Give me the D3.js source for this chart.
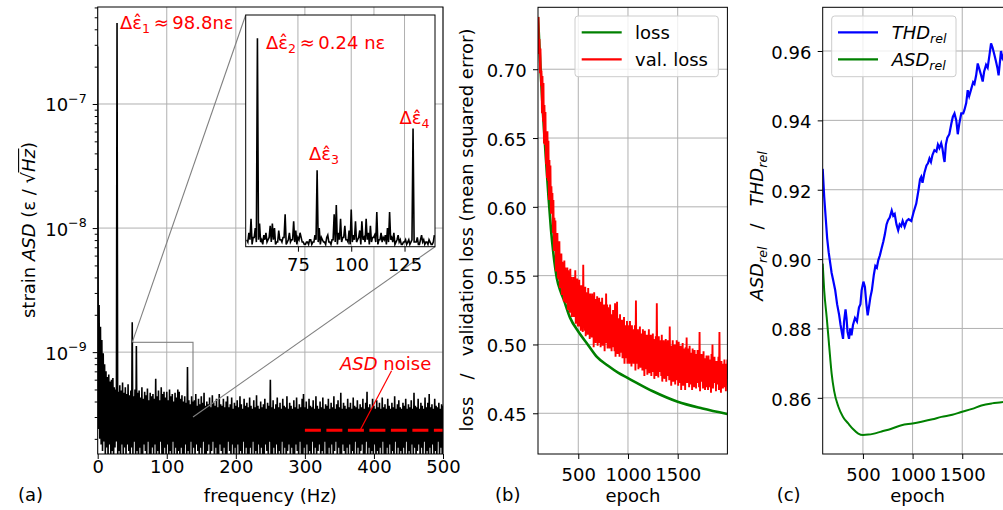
<!DOCTYPE html>
<html><head><meta charset="utf-8">
<script src="https://cdn.jsdelivr.net/npm/d3@7"></script>
<style>
body{margin:0;background:#fff}
svg{display:block;font-family:"DejaVu Sans",sans-serif}
</style>
</head><body>
<svg id="c" width="1003" height="510"></svg>
<script>
// ---------------- DATA ----------------
// Panel (a): strain ASD, units 1e-11, local maxima at even Hz (0..500)
const asdEven = [
29000,240,160,125,98,80,70,63,66,58,
60,62,52,50,45000,48,54,49,57,47,
52,46,55,45,49,174,44,50,112,47,
49,43,52,42,48,45,51,41,47,44,
46,42,61,44,49,41,52,46,48,43,
48,41,50,44,46,40,47,43,50,48,
42,45,40,44,39,76,41,38,44,40,
41,46,37,42,38,44,39,47,37,40,
38,43,36,45,39,37,42,36,46,38,
37,42,36,40,44,36,38,43,35,39,
37,41,36,44,38,35,42,37,39,36,
43,37,35,41,36,45,37,35,40,36,
38,42,35,39,37,60,36,41,35,38,
43,36,39,35,42,37,36,44,35,39,
37,35,41,36,43,35,38,36,42,46,
36,40,35,42,37,36,41,35,44,37,
35,40,36,43,35,38,37,42,35,39,
36,44,35,38,41,36,47,35,39,37,
35,42,36,39,35,43,37,36,41,35,
38,36,42,35,39,48,36,38,35,42,
37,35,41,36,39,35,43,36,38,35,
42,37,35,39,36,44,35,38,41,36,
35,39,37,42,35,38,36,41,35,47,
37,36,42,35,39,37,35,43,36,39,
46,36,38,35,42,37,36,39,35,38,
37];
// local minima at odd Hz (1..499), units 1e-11
const asdOdd = [
24,20,18,16,19,15,17,14,18,15,
16,13,17,19,14,16,12,18,15,17,
14,18,16,13,17,15,19,14,16,12,
17,15,13,18,16,14,19,15,12,17,
15,18,13,16,14,19,15,12,17,14,
18,14,16,13,19,15,17,12,16,14,
17,15,13,18,14,16,12,19,15,17,
14,18,16,13,17,15,19,14,12,16,
18,14,16,19,13,17,15,12,18,16,
14,17,15,13,19,16,14,18,12,17,
15,18,14,16,13,19,15,17,14,12,
17,15,19,14,16,13,18,15,17,14,
12,18,16,14,19,15,13,17,15,18,
14,16,13,19,15,17,12,16,18,14,
17,15,13,18,16,14,19,15,12,17,
15,18,14,16,13,19,15,17,14,16,
18,13,16,15,19,14,12,17,15,18,
14,16,19,13,17,15,14,18,16,12,
17,15,18,14,16,13,19,15,17,14,
16,18,13,15,19,14,17,12,16,15,
18,14,16,13,17,15,19,14,11,17,
15,18,14,16,13,19,15,17,14,16,
13,17,15,19,14,16,12,18,15,17,
14,16,18,13,17,15,19,14,16,12,
17,15,18,14,16,13,19,15,17,14];
const freqTicks = [0,100,200,300,400,500];
const asdTicks = [1e-9,1e-8,1e-7];
const zoomBox = {f0:50, f1:138, v0:3.0e-10, v1:1.2e-9};
const asdNoise = 2.35e-10;
const asdNoiseRange = [300,500];
// inset: amplitude (relative units, x100) at integer Hz 51..139 and half-Hz minima
const insetHi = [
3,6,12,4,8,90,10,3,5,6,
3,9,10,8,2,7,3,4,14,2,
6,3,11,7,4,6,2,1,2,1,
3,2,5,33,8,4,2,1,5,2,
3,14,18,6,12,4,9,3,7,16,
5,11,3,7,11,4,12,6,9,4,
5,15,3,6,4,5,8,15,4,6,
2,5,3,1,2,1,3,2,51,2,
4,1,5,3,2,1,2,1,5];
const insetLo = [
2,3,1,4,2,3,2,1,3,2,
4,2,3,1,2,3,2,4,1,3,
2,3,2,1,3,4,2,1,2,3,
1,2,3,2,1,3,2,4,2,1,
3,2,1,3,2,4,3,2,1,2,
3,2,4,1,3,2,3,1,2,4,
2,1,3,2,3,1,2,3,2,1,
3,2,1,2,3,2,1,3,2,2,
1,3,2,1,2,3,1,2];
const insetTicks = [75,100,125];

// Panel (b): training loss and validation loss
const lossEpoch = [95,110,125,140,160,180,200,225,250,285,320,352,417,500,600,685,800,900,1000,1250,1500,1750,2000];
const lossValue = [0.738,0.716,0.694,0.674,0.651,0.629,0.608,0.584,0.566,0.548,0.539,0.533,0.5195,0.5094,0.4995,0.4912,0.4845,0.4795,0.4756,0.466,0.4584,0.4535,0.4495];
// validation loss x1000: maxima at epochs 100,110,...,2000 ; minima at 105,...,1995
const valHi = [
738,722,715,699,695,690,674,669,654,655,
648,634,630,615,610,605,592,590,577,581,
575,575,564,566,560,553,561,556,552,556,
554,547,555,549,543,549,545,554,541,548,
544,547,538,543,539,558,536,542,538,531,
541,533,537,529,537,533,538,528,533,535,
530,534,526,531,534,525,529,522,537,529,
527,520,529,522,516,525,519,530,517,531,
519,513,522,515,518,512,520,514,508,517,
514,509,517,511,514,506,511,514,532,507,
511,506,513,503,508,511,505,510,502,507,
505,511,501,507,502,508,504,499,506,530,
501,506,497,503,507,498,503,497,504,499,
503,497,513,499,494,503,498,500,494,503,
497,502,493,499,495,501,491,497,498,505,
492,497,499,489,494,497,491,496,488,493,
496,491,509,487,493,487,495,490,484,492,
487,492,484,489,493,500,486,491,481,488,
486,491,509,482,488,481,486,489,482,486,
489];
const valLo = [
711,697,688,668,662,646,645,631,621,619,
605,605,595,597,581,568,568,553,554,548,
547,541,546,536,539,531,538,530,531,525,
529,523,530,520,523,520,524,515,518,513,
513,518,510,514,509,517,510,506,513,507,
511,504,512,505,506,498,509,501,504,499,
501,507,498,503,499,504,495,501,505,497,
502,497,503,495,498,503,495,491,497,493,
498,491,494,498,490,493,486,495,490,486,
491,486,494,484,490,486,491,481,486,489,
482,487,483,489,481,485,477,487,482,478,
485,479,483,477,486,480,475,482,477,484,
476,480,484,477,473,481,475,480,473,477,
481,474,477,470,481,473,477,471,474,477,
470,476,472,467,478,470,474,467,478,472,
475,469,477,471,467,473,469,477,468,472,
475,469,466,473,477,468,472,467,475,469,
467,473,469,465,475,468,472,476,466,471,
474,467,472,465,476,468,473,469,466,475];
const epochTicks = [500,1000,1500];
const lossTicks = [0.45,0.50,0.55,0.60,0.65,0.70];

// Panel (c): relative THD and ASD
const thdEpoch = [95,110,125,140,155,170,185,200,221,240,260,275,290,300,310,325,335,345,360,372,385,400,420,440,460,475,487,505,520,535,548,560,575,590,610,625,640,655,670,687,705,720,738,753,770,790,805,820,838,855,870,885,900,920,940,960,987,1010,1037,1060,1075,1087,1100,1120,1140,1155,1170,1185,1200,1220,1240,1255,1270,1288,1300,1315,1322,1335,1350,1370,1390,1405,1422,1440,1455,1470,1490,1510,1522,1540,1555,1570,1590,1610,1623,1640,1656,1670,1690,1706,1720,1740,1756,1775,1790,1805,1823,1840,1855,1866,1880,1890,1905,1920,1940,1960,1980,2000];
const thdValue = [0.926,0.918,0.912,0.906,0.902,0.899,0.896,0.894,0.891,0.887,0.884,0.881,0.8785,0.877,0.882,0.8855,0.883,0.879,0.877,0.880,0.878,0.881,0.883,0.882,0.886,0.887,0.891,0.8935,0.892,0.887,0.8838,0.886,0.889,0.891,0.8955,0.898,0.8975,0.8997,0.901,0.903,0.905,0.907,0.910,0.9112,0.912,0.914,0.9125,0.913,0.910,0.9083,0.910,0.9095,0.911,0.9093,0.911,0.9115,0.911,0.9135,0.916,0.920,0.923,0.9237,0.922,0.925,0.927,0.9276,0.929,0.928,0.930,0.9314,0.931,0.933,0.932,0.9334,0.932,0.929,0.928,0.933,0.935,0.936,0.939,0.941,0.942,0.940,0.936,0.939,0.942,0.942,0.943,0.945,0.9487,0.947,0.949,0.951,0.9505,0.953,0.9564,0.955,0.953,0.9512,0.954,0.956,0.9552,0.959,0.9622,0.961,0.959,0.957,0.955,0.953,0.957,0.960,0.958,0.959,0.957,0.958,0.956,0.957];
const asdRelEpoch = [95,110,135,160,185,210,252,300,352,400,453,500,554,600,688,780,889,1000,1090,1200,1290,1400,1490,1600,1693,1800,1894,2000];
const asdRelValue = [0.8987,0.891,0.8833,0.875,0.867,0.862,0.8575,0.8545,0.8526,0.851,0.8497,0.8493,0.8494,0.8496,0.8503,0.851,0.8521,0.8526,0.8531,0.8538,0.8545,0.8551,0.8559,0.8568,0.8578,0.8584,0.8587,0.8592];
const relTicks = [0.86,0.88,0.90,0.92,0.94,0.96];

// ---------------- DRAWING ----------------
const FS = 18;
const GRID = '#b0b0b0';
const svg = d3.select('#c');
const defs = svg.append('defs');
function clip(id,x,y,w,h){ defs.append('clipPath').attr('id',id).append('rect').attr('x',x).attr('y',y).attr('width',w).attr('height',h); }
function styleAxis(g){
  g.attr('font-family','DejaVu Sans').attr('font-size',FS);
  g.select('.domain').remove();
  g.selectAll('.tick line').attr('stroke','#000').attr('stroke-width',1);
  g.selectAll('.tick text').attr('fill','#000');
}
function frame(g,x0,x1,y0,y1){
  g.append('rect').attr('x',x0).attr('y',y0).attr('width',x1-x0).attr('height',y1-y0)
   .attr('fill','none').attr('stroke','#000').attr('stroke-width',1);
}

// ===== Panel (a) =====
const ax = d3.scaleLinear().domain([0,500]).range([97.7,443]);
const ay = d3.scaleLog().domain([1.51e-10,6.05e-7]).range([454,7]);
const gA = svg.append('g');
clip('clipA',ax.range()[0],ay.range()[1],ax.range()[1]-ax.range()[0],ay.range()[0]-ay.range()[1]);
gA.append('g').selectAll('line').data(freqTicks).join('line')
  .attr('x1',d=>ax(d)).attr('x2',d=>ax(d)).attr('y1',ay.range()[0]).attr('y2',ay.range()[1])
  .attr('stroke',GRID).attr('stroke-width',1);
gA.append('g').selectAll('line').data(asdTicks).join('line')
  .attr('x1',ax.range()[0]).attr('x2',ax.range()[1]).attr('y1',d=>ay(d)).attr('y2',d=>ay(d))
  .attr('stroke',GRID).attr('stroke-width',1);
const gray = '#808080';
gA.append('rect').attr('x',ax(zoomBox.f0)).attr('y',ay(zoomBox.v1))
  .attr('width',ax(zoomBox.f1)-ax(zoomBox.f0)).attr('height',ay(zoomBox.v0)-ay(zoomBox.v1))
  .attr('fill','none').attr('stroke',gray).attr('stroke-width',1.1);
const spec = [];
for(let i=0;i<asdEven.length;i++){
  spec.push([2*i, asdEven[i]*1e-11]);
  if(i<asdOdd.length) spec.push([2*i+1, asdOdd[i]*1e-11]);
}
gA.append('path').datum(spec).attr('clip-path','url(#clipA)')
  .attr('d',d3.line().x(d=>ax(d[0])).y(d=>ay(d[1])))
  .attr('fill','none').attr('stroke','#000').attr('stroke-width',1.6).attr('stroke-linejoin','miter');
gA.append('line').attr('x1',ax(asdNoiseRange[0])).attr('x2',ax(asdNoiseRange[1]))
  .attr('y1',ay(asdNoise)).attr('y2',ay(asdNoise))
  .attr('stroke','#ff0000').attr('stroke-width',3).attr('stroke-dasharray','16,5.5');
gA.append('line').attr('x1',ax(425.5)).attr('y1',ay(7.08e-10)).attr('x2',ax(380)).attr('y2',ay(asdNoise))
  .attr('stroke','#ff0000').attr('stroke-width',1.2);
const xAxA = gA.append('g').attr('transform',`translate(0,${ay.range()[0]})`)
  .call(d3.axisBottom(ax).tickValues(freqTicks).tickSize(5).tickPadding(1.4).tickFormat(d3.format('d')));
styleAxis(xAxA);
const minor = [];
for(let e=-10;e<=-7;e++) for(let m=2;m<=9;m++){ const v=m*Math.pow(10,e); if(v>=ay.domain()[0]&&v<=ay.domain()[1]) minor.push(v); }
const yAxA = gA.append('g').attr('transform',`translate(${ax.range()[0]},0)`)
  .call(d3.axisLeft(ay).tickValues(asdTicks).tickSize(5).tickFormat(''));
styleAxis(yAxA);
gA.append('g').attr('transform',`translate(${ax.range()[0]},0)`)
  .call(d3.axisLeft(ay).tickValues(minor).tickSize(3).tickFormat('')).call(styleAxis);
asdTicks.forEach(v=>{
  const t = gA.append('text').attr('x',86.7).attr('y',ay(v)+7.5).attr('text-anchor','end').attr('font-size',FS);
  t.append('tspan').text('10');
  t.append('tspan').attr('font-size',FS*0.7).attr('dy',-8.5).text('\u2212'+(-Math.round(Math.log10(v))));
});
frame(gA,ax.range()[0],ax.range()[1],ay.range()[1],ay.range()[0]);
// inset
const ix = d3.scaleLinear().domain([50.5,139.3]).range([245.7,435]);
const iy = d3.scaleLinear().domain([0,1]).range([246.7,15]);
gA.append('line').attr('x1',ax(zoomBox.f0)).attr('y1',ay(zoomBox.v1)).attr('x2',ix.range()[0]).attr('y2',iy.range()[1])
  .attr('stroke',gray).attr('stroke-width',1.1);
gA.append('line').attr('x1',ax(zoomBox.f1)).attr('y1',ay(zoomBox.v0)).attr('x2',ix.range()[1]).attr('y2',iy.range()[0])
  .attr('stroke',gray).attr('stroke-width',1.1);
const gI = gA.append('g');
clip('clipI',ix.range()[0],iy.range()[1],ix.range()[1]-ix.range()[0],iy.range()[0]-iy.range()[1]);
gI.append('rect').attr('x',ix.range()[0]).attr('y',iy.range()[1]).attr('width',ix.range()[1]-ix.range()[0])
  .attr('height',iy.range()[0]-iy.range()[1]).attr('fill','#fff');
gI.append('g').selectAll('line').data(insetTicks).join('line')
  .attr('x1',d=>ix(d)).attr('x2',d=>ix(d)).attr('y1',iy.range()[0]).attr('y2',iy.range()[1])
  .attr('stroke',GRID).attr('stroke-width',1);
const ins = [];
for(let i=0;i<insetHi.length;i++){
  ins.push([51+i, insetHi[i]/100]);
  if(i<insetLo.length) ins.push([51.5+i, insetLo[i]/100]);
}
gI.append('path').datum(ins).attr('clip-path','url(#clipI)')
  .attr('d',d3.line().x(d=>ix(d[0])).y(d=>iy(d[1])))
  .attr('fill','none').attr('stroke','#000').attr('stroke-width',1.6);
const xAxI = gI.append('g').attr('transform',`translate(0,${iy.range()[0]})`)
  .call(d3.axisBottom(ix).tickValues(insetTicks).tickSize(5).tickPadding(7).tickFormat(d3.format('d')));
styleAxis(xAxI);
frame(gI,ix.range()[0],ix.range()[1],iy.range()[1],iy.range()[0]);

function eps(x,y,sub,rest){
  const t = gA.append('text').attr('x',x).attr('y',y).attr('font-size',FS).attr('fill','#ff0000');
  t.append('tspan').text('\u0394\u03b5\u0302');
  t.append('tspan').attr('font-size',FS*0.7).attr('dy',4).text(sub);
  if(rest) t.append('tspan').attr('dy',-4).text(rest);
  return t;
}
eps(120,28.5,'1','\u2009\u2248\u200998.8n\u03b5');
eps(266,48.5,'2','\u2009\u2248\u20090.24 n\u03b5');
eps(309,160,'3',null);
eps(399.5,124,'4',null);
const nt = gA.append('text').attr('x',340).attr('y',369.5).attr('font-size',FS).attr('fill','#ff0000');
nt.append('tspan').attr('font-style','italic').text('ASD');
nt.append('tspan').text(' noise');
const yl = gA.append('text').attr('transform','translate(35,230) rotate(-90)').attr('text-anchor','middle').attr('font-size',FS);
yl.append('tspan').text('strain ');
yl.append('tspan').attr('font-style','italic').text('ASD');
yl.append('tspan').text(' (\u03b5 / \u221a');
yl.append('tspan').attr('font-style','italic').text('Hz');
yl.append('tspan').text(')');
try{
  const node = yl.node();
  const s = node.getExtentOfChar(16);
  const e = node.getEndPositionOfChar(18);
  gA.append('line').attr('transform','translate(35,230) rotate(-90)')
    .attr('x1',s.x+s.width-0.5).attr('x2',e.x+0.5).attr('y1',s.y+0.6).attr('y2',s.y+0.6)
    .attr('stroke','#000').attr('stroke-width',1.1);
}catch(err){}
gA.append('text').attr('x',ax(250)).attr('y',502).attr('text-anchor','middle').attr('font-size',FS).text('frequency (Hz)');
gA.append('text').attr('x',18).attr('y',501).attr('font-size',FS).text('(a)');

// ===== Panel (b) =====
const bx = d3.scaleLinear().domain([95,2000]).range([538,727.4]);
const by = d3.scaleLinear().domain([0.4204,0.745]).range([454,7.3]);
const gB = svg.append('g');
clip('clipB',bx.range()[0],by.range()[1],bx.range()[1]-bx.range()[0],by.range()[0]-by.range()[1]);
gB.append('g').selectAll('line').data(epochTicks).join('line')
  .attr('x1',d=>bx(d)).attr('x2',d=>bx(d)).attr('y1',by.range()[0]).attr('y2',by.range()[1])
  .attr('stroke',GRID).attr('stroke-width',1);
gB.append('g').selectAll('line').data(lossTicks).join('line')
  .attr('x1',bx.range()[0]).attr('x2',bx.range()[1]).attr('y1',d=>by(d)).attr('y2',d=>by(d))
  .attr('stroke',GRID).attr('stroke-width',1);
gB.append('path').datum(lossEpoch.map((e,i)=>[e,lossValue[i]])).attr('clip-path','url(#clipB)')
  .attr('d',d3.line().x(d=>bx(d[0])).y(d=>by(d[1])).curve(d3.curveMonotoneX))
  .attr('fill','none').attr('stroke','#008000').attr('stroke-width',2.6);
const val = [];
for(let i=0;i<valHi.length;i++){
  val.push([100+10*i, valHi[i]/1000]);
  if(i<valLo.length) val.push([105+10*i, valLo[i]/1000]);
}
gB.append('path').datum(val).attr('clip-path','url(#clipB)')
  .attr('d',d3.line().x(d=>bx(d[0])).y(d=>by(d[1])))
  .attr('fill','none').attr('stroke','#ff0000').attr('stroke-width',1.9);
const xAxB = gB.append('g').attr('transform',`translate(0,${by.range()[0]})`)
  .call(d3.axisBottom(bx).tickValues(epochTicks).tickSize(5).tickPadding(9.7).tickFormat(d3.format('d')));
styleAxis(xAxB);
const yAxB = gB.append('g').attr('transform',`translate(${bx.range()[0]},0)`)
  .call(d3.axisLeft(by).tickValues(lossTicks).tickSize(5).tickPadding(6.3).tickFormat(d3.format('.2f')));
styleAxis(yAxB);
yAxB.selectAll('.tick text').attr('dy','0.41em');
frame(gB,bx.range()[0],bx.range()[1],by.range()[1],by.range()[0]);
function legendBox(g,x,y,w,h){
  g.append('rect').attr('x',x).attr('y',y).attr('width',w).attr('height',h).attr('rx',3)
   .attr('fill','#fff').attr('fill-opacity',0.8).attr('stroke','#cccccc').attr('stroke-width',1);
}
legendBox(gB,575,16,143.3,60.7);
gB.append('line').attr('x1',581.7).attr('x2',621.7).attr('y1',32.3).attr('y2',32.3).attr('stroke','#008000').attr('stroke-width',2.2);
gB.append('line').attr('x1',581.7).attr('x2',621.7).attr('y1',59.3).attr('y2',59.3).attr('stroke','#ff0000').attr('stroke-width',2.2);
gB.append('text').attr('x',635).attr('y',38.8).attr('font-size',FS).text('loss');
gB.append('text').attr('x',635).attr('y',65.8).attr('font-size',FS).text('val. loss');
gB.append('text').attr('transform','translate(473.3,230) rotate(-90)').attr('text-anchor','middle')
  .attr('font-size',FS).text('loss\u00a0\u00a0\u00a0/\u00a0\u00a0\u00a0validation loss (mean squared error)');
gB.append('text').attr('x',bx(1050)).attr('y',502).attr('text-anchor','middle').attr('font-size',FS).text('epoch');
gB.append('text').attr('x',495).attr('y',501).attr('font-size',FS).text('(b)');

// ===== Panel (c) =====
const cx = d3.scaleLinear().domain([95,2000]).range([822.7,1011.9]);
const cy = d3.scaleLinear().domain([0.8438,0.9726]).range([454,7.3]);
const gC = svg.append('g');
clip('clipC',cx.range()[0],cy.range()[1],cx.range()[1]-cx.range()[0],cy.range()[0]-cy.range()[1]);
gC.append('g').selectAll('line').data(epochTicks).join('line')
  .attr('x1',d=>cx(d)).attr('x2',d=>cx(d)).attr('y1',cy.range()[0]).attr('y2',cy.range()[1])
  .attr('stroke',GRID).attr('stroke-width',1);
gC.append('g').selectAll('line').data(relTicks).join('line')
  .attr('x1',cx.range()[0]).attr('x2',cx.range()[1]).attr('y1',d=>cy(d)).attr('y2',d=>cy(d))
  .attr('stroke',GRID).attr('stroke-width',1);
gC.append('path').datum(asdRelEpoch.map((e,i)=>[e,asdRelValue[i]])).attr('clip-path','url(#clipC)')
  .attr('d',d3.line().x(d=>cx(d[0])).y(d=>cy(d[1])).curve(d3.curveMonotoneX))
  .attr('fill','none').attr('stroke','#008000').attr('stroke-width',2);
gC.append('path').datum(thdEpoch.map((e,i)=>[e,thdValue[i]])).attr('clip-path','url(#clipC)')
  .attr('d',d3.line().x(d=>cx(d[0])).y(d=>cy(d[1])))
  .attr('fill','none').attr('stroke','#0000ff').attr('stroke-width',2.2);
const xAxC = gC.append('g').attr('transform',`translate(0,${cy.range()[0]})`)
  .call(d3.axisBottom(cx).tickValues(epochTicks).tickSize(5).tickPadding(9.7).tickFormat(d3.format('d')));
styleAxis(xAxC);
const yAxC = gC.append('g').attr('transform',`translate(${cx.range()[0]},0)`)
  .call(d3.axisLeft(cy).tickValues(relTicks).tickSize(5).tickPadding(6.3).tickFormat(d3.format('.2f')));
styleAxis(yAxC);
yAxC.selectAll('.tick text').attr('dy','0.41em');
frame(gC,cx.range()[0],cx.range()[1],cy.range()[1],cy.range()[0]);
legendBox(gC,831.7,16,124.3,60.7);
gC.append('line').attr('x1',838).attr('x2',878).attr('y1',32.3).attr('y2',32.3).attr('stroke','#0000ff').attr('stroke-width',2.2);
gC.append('line').attr('x1',838).attr('x2',878).attr('y1',59.3).attr('y2',59.3).attr('stroke','#008000').attr('stroke-width',2.2);
function relText(g,x,y,name){
  const t = g.append('text').attr('x',x).attr('y',y).attr('font-size',FS).attr('font-style','italic');
  t.append('tspan').text(name);
  t.append('tspan').attr('font-size',FS*0.7).attr('dy',4).text('rel');
  return t;
}
relText(gC,891.7,38.8,'THD');
relText(gC,891.7,65.8,'ASD');
const ylc = gC.append('text').attr('transform','translate(763,226) rotate(-90)').attr('text-anchor','middle').attr('font-size',FS);
ylc.append('tspan').attr('font-style','italic').text('ASD');
ylc.append('tspan').attr('font-style','italic').attr('font-size',FS*0.7).attr('dy',4).text('rel');
ylc.append('tspan').attr('dy',-4).text('\u00a0\u00a0\u00a0/\u00a0\u00a0\u00a0');
ylc.append('tspan').attr('font-style','italic').text('THD');
ylc.append('tspan').attr('font-style','italic').attr('font-size',FS*0.7).attr('dy',4).text('rel');
gC.append('text').attr('x',cx(1050)).attr('y',502).attr('text-anchor','middle').attr('font-size',FS).text('epoch');
gC.append('text').attr('x',776.7).attr('y',501).attr('font-size',FS).text('(c)');
</script>
</body></html>
